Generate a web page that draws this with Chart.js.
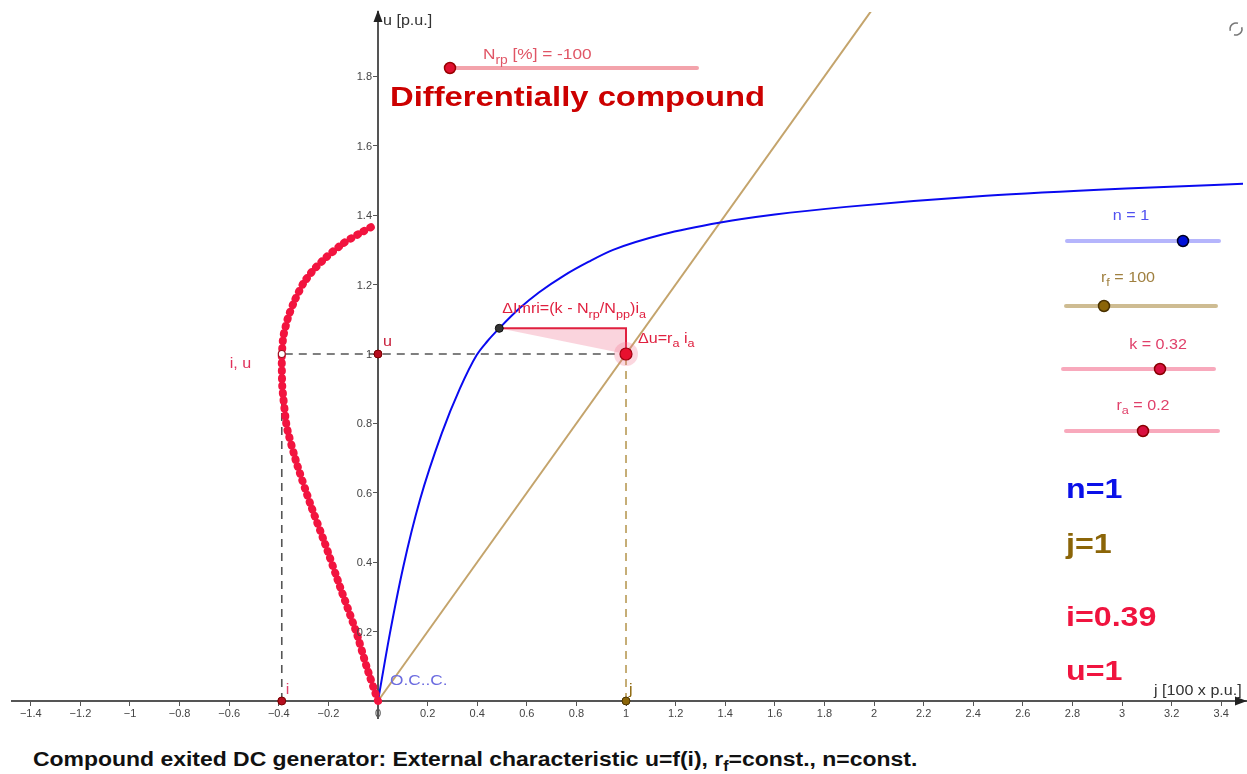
<!DOCTYPE html>
<html lang="en">
<head>
<meta charset="UTF-8"/>
<title>Compound exited DC generator</title>
<script src="https://cdn.jsdelivr.net/npm/chart.js@4.4.1/dist/chart.umd.min.js"></script>
<style>
  body{margin:0;background:#fff}
  #wrap{position:relative;width:1247px;height:774px;overflow:hidden}
  #chartBox{position:absolute;left:0;top:0;width:1247px;height:730px}
  #caption{position:absolute;left:33px;top:748px;font:bold 20px "Liberation Sans",Arial,sans-serif;color:#111;white-space:nowrap;transform:scaleX(1.147);transform-origin:0 0}
  #caption sub{font-size:14px;line-height:0}
</style>
</head>
<body>
<div id="wrap">
  <div id="chartBox"><canvas id="Chart"></canvas></div>
  <div id="caption">Compound exited DC generator: External characteristic u=f(i), r<sub>f</sub>=const., n=const.</div>
</div>
<script>
// axis ranges (p.u.)
const xRange = [-1.4758, 3.4556];
const yRange = [-0.049, 1.9856];

// open circuit characteristic (blue)
const occJ = [0, 0.048, 0.102, 0.169, 0.257, 0.33, 0.398, 0.44, 0.489, 0.573, 0.65, 0.75, 0.85, 0.948, 1.15, 1.381, 1.6, 1.888, 2.452, 3.016, 3.55];
const occU = [0, 0.195, 0.387, 0.579, 0.771, 0.90, 0.997, 1.036, 1.074, 1.133, 1.178, 1.226, 1.266, 1.300, 1.345, 1.379, 1.402, 1.424, 1.456, 1.477, 1.492];

// external characteristic u = f(i) (red trace)
const extI = [0, -0.046, -0.086, -0.153, -0.214, -0.274, -0.328, -0.368, -0.386, -0.388, -0.382, -0.362, -0.335, -0.301, -0.261, -0.207, -0.140, -0.073, -0.012];
const extU = [0, 0.099, 0.195, 0.329, 0.454, 0.570, 0.685, 0.790, 0.906, 0.992, 1.050, 1.107, 1.156, 1.204, 1.242, 1.280, 1.319, 1.348, 1.372];

// field resistance line j = u (brown)
const fieldJ = [0, 2.2];
const fieldU = [0, 2.2];

// operating point
const opJ = 1, opU = 1, opI = -0.388;
const kneeJ = 0.489, kneeU = 1.074;

const FONT = '"Liberation Sans", Arial, sans-serif';
const STRETCH = 1.15;
const pts = (xs, ys) => xs.map((x, i) => ({x: x, y: ys[i]}));

function rich(ctx, x, y, parts, size, color, align, bold) {
  const f = s => (bold ? 'bold ' : '') + s + 'px ' + FONT;
  const sub = Math.round(size * 0.78);
  ctx.save();
  ctx.fillStyle = color;
  ctx.textBaseline = 'middle';
  ctx.textAlign = 'left';
  let w = 0;
  parts.forEach(p => { ctx.font = f(p[1] ? sub : size); w += ctx.measureText(p[0]).width; });
  w *= STRETCH;
  let sx = align === 'center' ? x - w / 2 : align === 'right' ? x - w : x;
  ctx.translate(sx, y);
  ctx.scale(STRETCH, 1);
  let cx = 0;
  parts.forEach(p => {
    ctx.font = f(p[1] ? sub : size);
    ctx.fillText(p[0], cx, p[1] ? size * 0.38 : 0);
    cx += ctx.measureText(p[0]).width;
  });
  ctx.restore();
}

function slider(ctx, x1, x2, y, xd, lineCol, dotCol, rimCol) {
  ctx.save();
  ctx.strokeStyle = lineCol; ctx.lineWidth = 4; ctx.lineCap = 'round';
  ctx.beginPath(); ctx.moveTo(x1, y); ctx.lineTo(x2, y); ctx.stroke();
  ctx.fillStyle = dotCol; ctx.strokeStyle = rimCol; ctx.lineWidth = 1.5;
  ctx.beginPath(); ctx.arc(xd, y, 5.5, 0, Math.PI * 2); ctx.fill(); ctx.stroke();
  ctx.restore();
}

const fmt = v => {
  const r = Math.round(v * 10) / 10;
  return String(r).replace('-', '\u2212');
};

const decor = {
  id: 'decor',
  afterDraw(chart) {
    const ctx = chart.ctx, a = chart.chartArea;
    const X = v => chart.scales.x.getPixelForValue(v);
    const Y = v => chart.scales.y.getPixelForValue(v);
    const x0 = X(0), y0 = Y(0);
    const xEnd = chart.width;

    // y tick labels, left of the axis
    ctx.save();
    ctx.fillStyle = '#444'; ctx.font = '11px ' + FONT;
    ctx.textAlign = 'right'; ctx.textBaseline = 'middle';
    chart.scales.y.ticks.forEach(t => {
      if (Math.abs(t.value) < 1e-9) return;
      ctx.fillText(fmt(t.value), x0 - 6, Y(t.value) + 1);
    });
    ctx.restore();

    // x axis runs on to the right edge, axis arrows
    ctx.save();
    ctx.strokeStyle = '#555'; ctx.lineWidth = 2;
    ctx.beginPath(); ctx.moveTo(a.right, y0); ctx.lineTo(xEnd, y0); ctx.stroke();
    ctx.fillStyle = '#222';
    ctx.beginPath(); ctx.moveTo(x0, a.top - 2); ctx.lineTo(x0 - 4.5, a.top + 10); ctx.lineTo(x0 + 4.5, a.top + 10); ctx.closePath(); ctx.fill();
    ctx.beginPath(); ctx.moveTo(xEnd, y0); ctx.lineTo(xEnd - 12, y0 - 4.5); ctx.lineTo(xEnd - 12, y0 + 4.5); ctx.closePath(); ctx.fill();
    ctx.restore();

    rich(ctx, x0 + 5, 21, [['u [p.u.]']], 14, '#333', 'left');
    rich(ctx, 1154, 691, [['j [100 x p.u.]']], 14, '#333', 'left');

    // point labels
    rich(ctx, x0 + 5, Y(1) - 12, [['u']], 14, '#c8203c', 'left');
    rich(ctx, X(opI) + 4, y0 - 11, [['i']], 14, '#e0406a', 'left');
    rich(ctx, X(opJ) + 3, y0 - 11, [['j']], 14, '#8b6508', 'left');
    rich(ctx, X(opI) - 52, Y(opU) + 10, [['i, u']], 14, '#e0305a', 'left');
    rich(ctx, x0 + 12, y0 - 20, [['O.C..C.']], 15, '#6c6ce0', 'left');
    rich(ctx, X(kneeJ) + 3, Y(kneeU) - 19, [['\u0394Imri=(k - N'], ['rp', 1], ['/N'], ['pp', 1], [')i'], ['a', 1]], 14, '#e0203f', 'left');
    rich(ctx, X(opJ) + 12, Y(opU) - 15, [['\u0394u=r'], ['a', 1], [' i'], ['a', 1]], 14, '#e0203f', 'left');

    // sliders
    slider(ctx, 450, 697, 68, 450, 'rgba(240,140,150,0.8)', '#e01030', '#900');
    rich(ctx, 483, 55, [['N'], ['rp', 1], [' [%] = -100']], 15, '#e05565', 'left');
    rich(ctx, 390, 98, [['Differentially compound']], 28.5, '#cc0000', 'left', true);

    rich(ctx, 1131, 216, [['n = 1']], 14, '#5050f0', 'center');
    slider(ctx, 1067, 1219, 241, 1183, 'rgba(120,120,250,0.55)', '#0010d8', '#002');
    rich(ctx, 1128, 278, [['r'], ['f', 1], [' = 100']], 14, '#a08040', 'center');
    slider(ctx, 1066, 1216, 306, 1104, 'rgba(190,165,110,0.75)', '#8b6508', '#4a3200');
    rich(ctx, 1158, 345, [['k = 0.32']], 14, '#e0406a', 'center');
    slider(ctx, 1063, 1214, 369, 1160, 'rgba(245,140,165,0.75)', '#d81040', '#800');
    rich(ctx, 1143, 406, [['r'], ['a', 1], [' = 0.2']], 14, '#e0406a', 'center');
    slider(ctx, 1066, 1218, 431, 1143, 'rgba(245,140,165,0.75)', '#d81040', '#800');

    rich(ctx, 1066, 490, [['n=1']], 28, '#0a10e8', 'left', true);
    rich(ctx, 1066, 545, [['j=1']], 28, '#8b6508', 'left', true);
    rich(ctx, 1066, 618, [['i=0.39']], 28, '#f0143f', 'left', true);
    rich(ctx, 1066, 672, [['u=1']], 28, '#f0143f', 'left', true);

    // refresh icon
    ctx.save();
    ctx.strokeStyle = '#777'; ctx.lineWidth = 1.6;
    ctx.beginPath(); ctx.arc(1236, 29, 6, -0.3, 1.9); ctx.stroke();
    ctx.beginPath(); ctx.arc(1236, 29, 6, Math.PI - 0.3, Math.PI + 1.9); ctx.stroke();
    ctx.restore();
  }
};

new Chart(document.getElementById('Chart').getContext('2d'), {
  type: 'scatter',
  data: {
    datasets: [
      { // operating point dot + halo
        data: [{x: opJ, y: opU}], pointRadius: 6, pointBackgroundColor: '#e8102e',
        pointBorderColor: '#a00010', pointBorderWidth: 1.2, order: 0 },
      { data: [{x: opJ, y: opU}], pointRadius: 12, pointBackgroundColor: 'rgba(240,110,140,0.28)',
        pointBorderWidth: 0, order: 1 },
      { // small points
        data: [{x: 0, y: opU}, {x: opI, y: 0}], pointRadius: 4, pointBackgroundColor: '#b50d1e',
        pointBorderColor: '#700', pointBorderWidth: 1, order: 0 },
      { data: [{x: opJ, y: 0}], pointRadius: 4, pointBackgroundColor: '#8b6508',
        pointBorderColor: '#4a3200', pointBorderWidth: 1, order: 0 },
      { data: [{x: kneeJ, y: kneeU}], pointRadius: 4, pointBackgroundColor: '#333',
        pointBorderColor: '#111', pointBorderWidth: 1, order: 0 },
      { data: [{x: opI, y: opU}], pointRadius: 3.5, pointBackgroundColor: '#fff',
        pointBorderColor: '#a01020', pointBorderWidth: 1.2, order: 0 },
      { // voltage drop triangle
        data: [{x: kneeJ, y: kneeU}, {x: opJ, y: kneeU}, {x: opJ, y: opU}, {x: kneeJ, y: kneeU}],
        showLine: true, fill: 'shape', backgroundColor: 'rgba(245,160,180,0.45)', borderWidth: 0,
        pointRadius: 0, tension: 0, order: 6 },
      { data: [{x: kneeJ, y: kneeU}, {x: opJ, y: kneeU}, {x: opJ, y: opU}],
        showLine: true, borderColor: '#e0203f', borderWidth: 2, pointRadius: 0, tension: 0, order: 3 },
      { // open circuit characteristic
        data: pts(occJ, occU), showLine: true, borderColor: '#0a0af0', borderWidth: 2,
        pointRadius: 0, cubicInterpolationMode: 'monotone', order: 4,
        clip: { left: 2, top: 0, right: 8, bottom: 2 } },
      { // field line
        data: pts(fieldJ, fieldU), showLine: true, borderColor: '#c4a46c', borderWidth: 2,
        pointRadius: 0, order: 5 },
      { // external characteristic trace
        data: pts(extI, extU), showLine: true, borderColor: '#f2143f', borderWidth: 8,
        borderCapStyle: 'round', borderDash: [0.5, 7], tension: 0.15, pointRadius: 0, order: 2 },
      { // dashed helper lines
        data: [{x: opI, y: 0}, {x: opI, y: opU}, {x: opJ, y: opU}], showLine: true,
        borderColor: '#555', borderWidth: 1.6, borderDash: [8, 6], pointRadius: 0, tension: 0, order: 7 },
      { data: [{x: opJ, y: 0}, {x: opJ, y: opU}], showLine: true,
        borderColor: '#b89a55', borderWidth: 1.6, borderDash: [8, 6], pointRadius: 0, tension: 0, order: 7 }
    ]
  },
  options: {
    responsive: true,
    maintainAspectRatio: false,
    animation: false,
    events: [],
    layout: { padding: { left: 10, right: 0, top: 12, bottom: 10 } },
    plugins: { legend: { display: false }, tooltip: { enabled: false } },
    scales: {
      x: {
        type: 'linear', min: xRange[0], max: xRange[1], position: { y: 0 },
        grid: { display: true, drawOnChartArea: false, drawTicks: true, tickLength: 4, color: '#555' },
        border: { color: '#555', width: 2 },
        ticks: { stepSize: 0.2, includeBounds: false, autoSkip: false, maxRotation: 0, padding: 2,
          color: '#444', font: { size: 11, family: FONT }, callback: fmt }
      },
      y: {
        type: 'linear', min: yRange[0], max: yRange[1], position: { x: 0 },
        grid: { display: true, drawOnChartArea: false, drawTicks: true, tickLength: 4, color: '#555' },
        border: { color: '#555', width: 2 },
        ticks: { stepSize: 0.2, includeBounds: false, autoSkip: false, padding: 3,
          color: 'rgba(0,0,0,0)', font: { size: 11, family: FONT } }
      }
    }
  },
  plugins: [decor]
});
</script>
</body>
</html>
